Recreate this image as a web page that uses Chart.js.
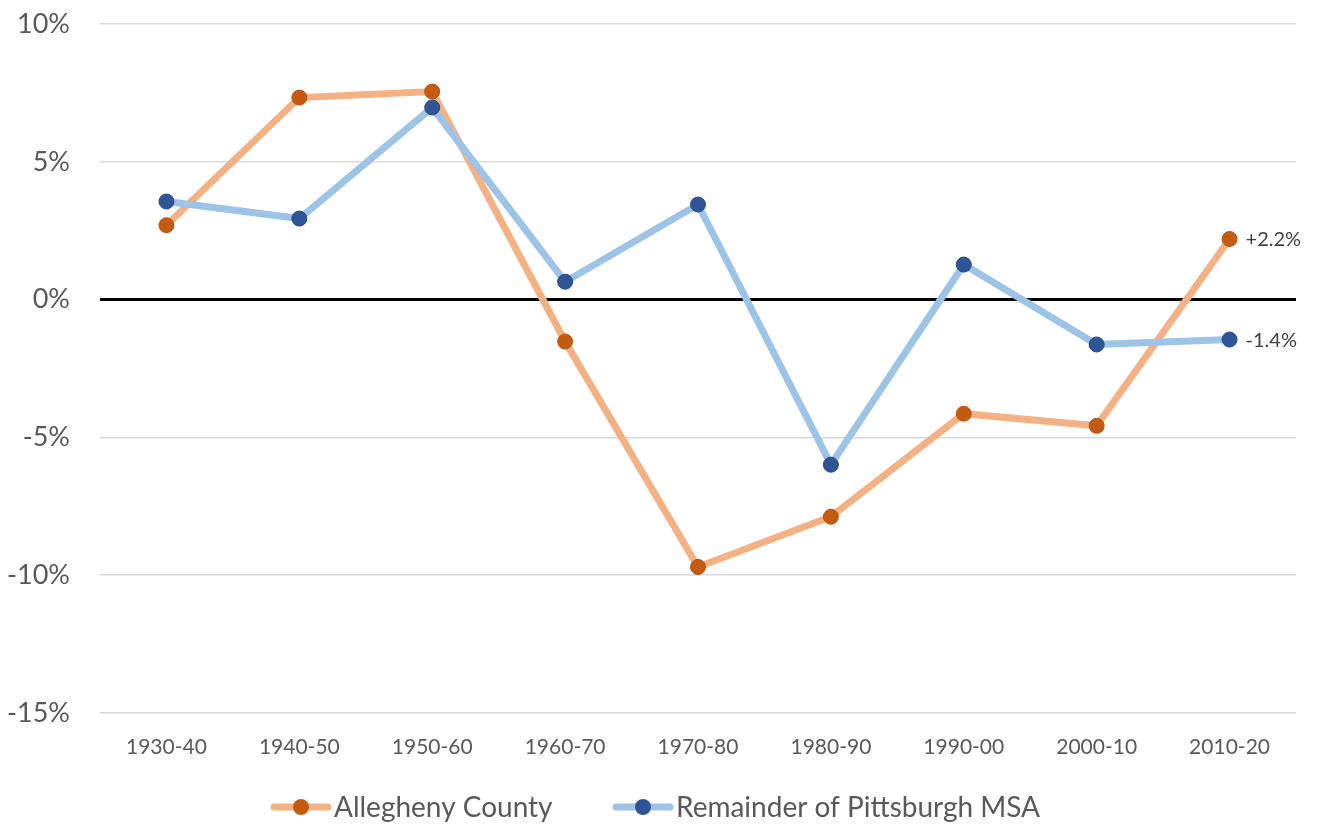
<!DOCTYPE html>
<html>
<head>
<meta charset="utf-8">
<script src="https://cdn.jsdelivr.net/npm/chart.js@4/dist/chart.umd.min.js"></script>
<style>
  html, body { margin: 0; padding: 0; background: #fff; }
  #wrap { width: 1317px; height: 825px; }
</style>
</head>
<body>
<div id="wrap"><canvas id="myChart" width="1317" height="825"></canvas></div>
<script>
// decades of population change
const decades = ['1930-40', '1940-50', '1950-60', '1960-70', '1970-80', '1980-90', '1990-00', '2000-10', '2010-20'];
// percent change per decade
const allegheny = [2.7, 7.33, 7.55, -1.52, -9.7, -7.88, -4.14, -4.58, 2.2];
const remainder = [3.56, 2.94, 6.97, 0.65, 3.45, -5.99, 1.27, -1.63, -1.45];
const endLabels = ['+2.2%', '-1.4%'];
const yTicks = [10, 5, 0, -5, -10, -15];

const FONT = "Lato, 'Open Sans', sans-serif";
const TEXT = '#595959';

// little "line with a dot" picture for the legend
function legendIcon(lineCol, dotCol) {
  const c = document.createElement('canvas');
  c.width = 62; c.height = 20;
  const g = c.getContext('2d');
  g.strokeStyle = lineCol; g.lineWidth = 7; g.lineCap = 'round';
  g.beginPath(); g.moveTo(4, 10); g.lineTo(58, 10); g.stroke();
  g.fillStyle = dotCol;
  g.beginPath(); g.arc(31, 10, 8, 0, Math.PI * 2); g.fill();
  return c;
}

const legendPlugin = {
  id: 'customLegend',
  afterDraw(chart) {
    const ctx = chart.ctx;
    const items = [
      { text: 'Allegheny County', icon: legendIcon('#F4B183', '#C55A11'), x: 270 },
      { text: 'Remainder of Pittsburgh MSA', icon: legendIcon('#9DC3E6', '#2F5597'), x: 612 }
    ];
    ctx.save();
    ctx.font = '28px ' + FONT;
    ctx.fillStyle = TEXT;
    ctx.textBaseline = 'middle';
    items.forEach(it => {
      ctx.drawImage(it.icon, it.x, 797);
      ctx.fillText(it.text, it.x + 64, 808);
    });
    ctx.restore();
  }
};

const endLabelPlugin = {
  id: 'endLabels',
  afterDatasetsDraw(chart) {
    const ctx = chart.ctx;
    ctx.save();
    ctx.font = '20px ' + FONT;
    ctx.fillStyle = '#404040';
    ctx.textBaseline = 'middle';
    [0, 1].forEach((di, k) => {
      const meta = chart.getDatasetMeta(di);
      const pt = meta.data[meta.data.length - 1];
      ctx.fillText(endLabels[k], pt.x + 16, pt.y + 1);
    });
    ctx.restore();
  }
};

const ctx = document.getElementById('myChart').getContext('2d');
const myChart = new Chart(ctx, {
  type: 'line',
  data: {
    labels: decades,
    datasets: [{
      label: 'Allegheny County',
      data: allegheny,
      borderColor: '#F4B183',
      backgroundColor: '#C55A11',
      pointBackgroundColor: '#C55A11',
      pointBorderColor: '#B85410',
      borderWidth: 7,
      pointRadius: 7.5,
      pointBorderWidth: 1,
      tension: 0,
      order: 1
    }, {
      label: 'Remainder of Pittsburgh MSA',
      data: remainder,
      borderColor: '#9DC3E6',
      backgroundColor: '#2F5597',
      pointBackgroundColor: '#2F5597',
      pointBorderColor: '#264A85',
      borderWidth: 7,
      pointRadius: 7.5,
      pointBorderWidth: 1,
      tension: 0,
      order: 0
    }]
  },
  options: {
    responsive: false,
    animation: false,
    layout: { padding: { top: 24, right: 21, bottom: 50, left: 0 } },
    plugins: {
      legend: { display: false },
      tooltip: { enabled: false }
    },
    scales: {
      x: {
        offset: true,
        grid: { display: false },
        border: { display: false },
        ticks: { color: TEXT, font: { family: FONT, size: 21 }, padding: 14 },
        afterFit(scale) { scale.height = 62; }
      },
      y: {
        min: -15,
        max: 10,
        afterBuildTicks(scale) { scale.ticks = yTicks.map(v => ({ value: v })); },
        border: { display: false },
        grid: {
          color: c => c.tick && c.tick.value === 0 ? '#000000' : '#D9D9D9',
          lineWidth: c => c.tick && c.tick.value === 0 ? 3 : 1.5,
          drawTicks: false
        },
        ticks: {
          color: TEXT,
          font: { family: FONT, size: 27 },
          padding: 30,
          callback: v => v + '%'
        },
        afterFit(scale) {
          scale.width = 100;
          scale.paddingTop = 0;
          scale.paddingBottom = 0;
        }
      }
    }
  },
  plugins: [legendPlugin, endLabelPlugin]
});
</script>
</body>
</html>
